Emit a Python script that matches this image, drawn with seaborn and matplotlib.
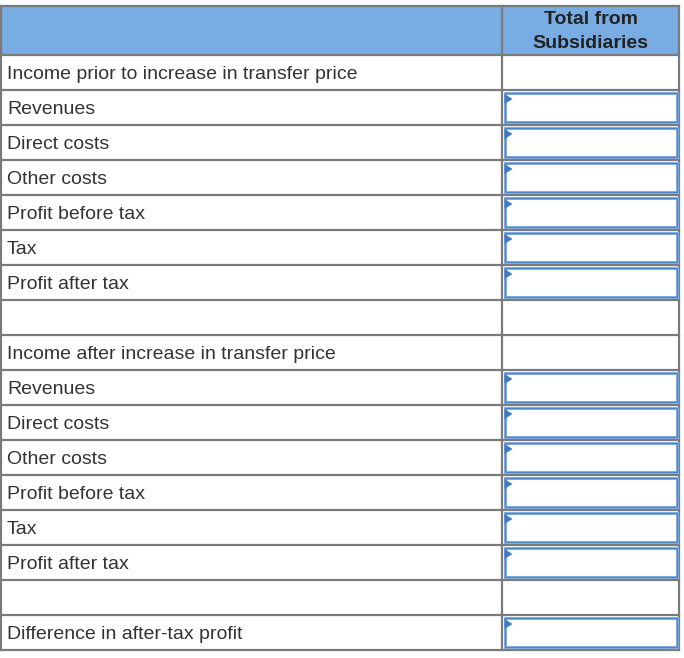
import matplotlib
matplotlib.use("Agg")
import matplotlib.pyplot as plt
from matplotlib.patches import Rectangle, Polygon
import seaborn as sns

sns.set_style("white")
plt.rcParams['font.family'] = ['Liberation Sans', 'DejaVu Sans']

# ---- data ----
header_left = ""
header_right = ["Total from", "Subsidiaries"]
row_labels = [
    "Income prior to increase in transfer price",
    "Revenues",
    "Direct costs",
    "Other costs",
    "Profit before tax",
    "Tax",
    "Profit after tax",
    "",
    "Income after increase in transfer price",
    "Revenues",
    "Direct costs",
    "Other costs",
    "Profit before tax",
    "Tax",
    "Profit after tax",
    "",
    "Difference in after-tax profit",
]
has_input = [False, True, True, True, True, True, True, False,
             False, True, True, True, True, True, True, False, True]

# ---- layout (pixel coordinates) ----
W, H = 684, 658
x0, xdiv, x1 = 1, 502, 679
y_top, y_head = 6, 55
row_h = 35

fig = plt.figure(figsize=(W / 100, H / 100), dpi=100)
ax = fig.add_axes([0, 0, 1, 1])
ax.set_xlim(0, W)
ax.set_ylim(H, 0)
ax.axis("off")

grid_c = "#7b7b7b"
head_c = "#78ace3"
text_c = "#333333"
box_c = "#4a86c8"
fs = 14

# header fill
ax.add_patch(Rectangle((x0, y_top), x1 - x0, y_head - y_top, facecolor=head_c,
                       edgecolor="none", zorder=1))
ax.text((xdiv + x1) / 2, 20, header_right[0], ha="center",
        va="center", fontsize=fs, fontweight="bold", color="#222222", zorder=5)
ax.text((xdiv + x1) / 2, 43, header_right[1], ha="center",
        va="center", fontsize=fs, fontweight="bold", color="#222222", zorder=5)

n = len(row_labels)
y_bottom = y_head + n * row_h

# rows
for i, (lab, inp) in enumerate(zip(row_labels, has_input)):
    ya = y_head + i * row_h
    yc = ya + row_h / 2
    if lab:
        ax.text(x0 + 6, yc + 2, lab, ha="left", va="center", fontsize=fs,
                color=text_c, zorder=5)
    if inp:
        bx0, bx1 = xdiv + 2.5, x1 - 2
        by0, by1 = ya + 3, ya + row_h - 3
        ax.add_patch(Rectangle((bx0, by0), bx1 - bx0, by1 - by0, facecolor="white",
                               edgecolor="#8fb6e3", linewidth=2.2, zorder=3))
        ax.add_patch(Rectangle((bx0, by0), bx1 - bx0, by1 - by0, facecolor="none",
                               edgecolor=box_c, linewidth=1.0, zorder=3))
        ax.add_patch(Polygon([(bx0, by0 + 1), (bx0, by0 + 11), (bx0 + 8, by0 + 6)],
                             closed=True, facecolor="#3d7cc4", edgecolor="none",
                             zorder=4))

# grid lines
lw = 1.6
for i in range(n + 1):
    y = y_head + i * row_h
    ax.plot([x0, x1], [y, y], color=grid_c, linewidth=lw, zorder=2,
            solid_capstyle="projecting")
ax.plot([x0, x1], [y_top, y_top], color=grid_c, linewidth=lw, zorder=2,
        solid_capstyle="projecting")
for x in (x0, xdiv, x1):
    ax.plot([x, x], [y_top, y_bottom], color=grid_c, linewidth=lw, zorder=2,
            solid_capstyle="projecting")

fig.savefig("out.png", dpi=100, facecolor="white")
